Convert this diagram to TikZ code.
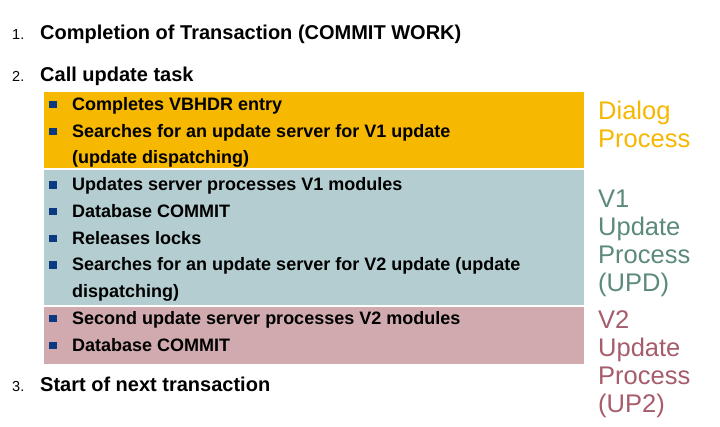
\documentclass[tikz,border=0pt]{standalone}
\usepackage{fontspec}
\setmainfont{Liberation Sans}
\definecolor{boxorange}{HTML}{F6B800}
\definecolor{boxblue}{HTML}{B3CDD1}
\definecolor{boxpink}{HTML}{D0AAAE}
\definecolor{txtorange}{HTML}{F7B600}
\definecolor{txtgreen}{HTML}{5B8A7A}
\definecolor{txtpink}{HTML}{A65C6A}
\definecolor{bulletblue}{HTML}{0C3A80}
\tikzset{
  panel/.style={rectangle, inner sep=0pt, minimum width=540pt, anchor=north west},
  numlbl/.style={anchor=base west, inner sep=0pt, font=\fontsize{14.5}{16}\selectfont},
  mainlbl/.style={anchor=base west, inner sep=0pt, font=\fontsize{20}{22}\selectfont\bfseries},
  itemlbl/.style={anchor=base west, inner sep=0pt, font=\fontsize{18}{20}\selectfont\bfseries},
  sidelbl/.style={anchor=base west, inner sep=0pt, font=\fontsize{25.5}{28}\selectfont},
  sq/.style={rectangle, fill=bulletblue, inner sep=0pt, minimum size=7.5pt}
}
\begin{document}
\begin{tikzpicture}[x=1pt,y=-1pt]
\useasboundingbox (0,0) rectangle (720,426);
% panels
\node[panel, fill=boxorange, minimum height=76pt] (pD) at (44,92) {};
\node[panel, fill=boxblue, minimum height=135pt] (p1) at (44,170) {};
\node[panel, fill=boxpink, minimum height=57pt] (p2) at (44,307) {};
% numbered headings
\node[numlbl] (n1) at (12,39) {1.};
\node[mainlbl] (t1) at (40,39) {Completion of Transaction (COMMIT WORK)};
\node[numlbl] (n2) at (12,81) {2.};
\node[mainlbl] (t2) at (40,81) {Call update task};
\node[numlbl] (n3) at (12,391.5) {3.};
\node[mainlbl] (t3) at (40,391.5) {Start of next transaction};
% bullet items
\foreach \y/\name/\txt in {
  110/b1/{Completes VBHDR entry},
  137/b2/{Searches for an update server for V1 update},
  190.5/b3/{Updates server processes V1 modules},
  217/b4/{Database COMMIT},
  244/b5/{Releases locks},
  270.5/b6/{Searches for an update server for V2 update (update},
  324/b7/{Second update server processes V2 modules},
  351/b8/{Database COMMIT}}{
  \node[sq] (s\name) at (53,\y-5.5) {};
  \node[itemlbl] (\name) at (72,\y) {\txt};
}
\node[itemlbl] (b2c) at (72,163.5) {(update dispatching)};
\node[itemlbl] (b6c) at (72,297) {dispatching)};
% side labels
\node[sidelbl, text=txtorange] (d1) at (598,119.3) {Dialog};
\node[sidelbl, text=txtorange] (d2) at (598,147) {Process};
\node[sidelbl, text=txtgreen] (v1a) at (598,207.7) {V1};
\node[sidelbl, text=txtgreen] (v1b) at (598,235.5) {Update};
\node[sidelbl, text=txtgreen] (v1c) at (598,263.3) {Process};
\node[sidelbl, text=txtgreen] (v1d) at (598,291.3) {(UPD)};
\node[sidelbl, text=txtpink] (v2a) at (598,328.3) {V2};
\node[sidelbl, text=txtpink] (v2b) at (598,356.2) {Update};
\node[sidelbl, text=txtpink] (v2c) at (598,384.1) {Process};
\node[sidelbl, text=txtpink] (v2d) at (598,412) {(UP2)};
\end{tikzpicture}
\end{document}
